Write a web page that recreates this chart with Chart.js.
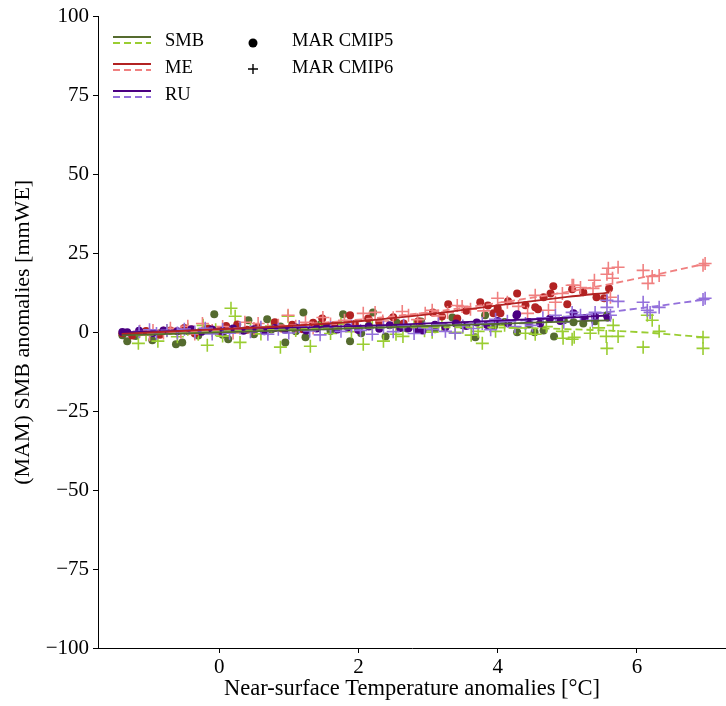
<!DOCTYPE html>
<html>
<head>
<meta charset="utf-8">
<script src="https://cdn.jsdelivr.net/npm/chart.js@4.4.1/dist/chart.umd.min.js"></script>
<style>body{margin:0;background:#fff;overflow:hidden}canvas{display:block}</style>
</head>
<body>
<canvas id="smbChart" width="726" height="706"></canvas>
<script>
/*global Chart*/

// scatter values: [temperature anomaly, SMB component anomaly]
const smbCmip5 = [[-1.39,-0.9],[-1.32,-2.8],[-1.2,-1.2],[-0.96,-2.5],[-0.85,-0.3],[-0.62,-3.8],[-0.53,-3.2],[-0.45,0.4],[-0.3,-1.0],[-0.2,0.9],[-0.07,5.7],[0.05,-0.8],[0.13,-2.2],[0.25,1.2],[0.42,3.8],[0.5,-0.6],[0.69,4.1],[0.75,0.9],[0.88,1.8],[0.95,-3.2],[1.1,0.3],[1.21,6.3],[1.24,-1.6],[1.45,2.4],[1.6,0.4],[1.78,5.7],[1.88,-2.8],[2.04,-0.3],[2.15,2.1],[2.21,6.3],[2.39,-1.3],[2.55,3.0],[2.7,1.2],[2.9,3.4],[3.1,1.0],[3.35,4.7],[3.5,2.2],[3.68,-1.6],[3.82,5.4],[3.95,2.0],[4.1,3.3],[4.28,0],[4.45,2.5],[4.53,0],[4.66,0.6],[4.81,-1.3],[4.95,3.8],[5.09,3.2],[5.23,2.8],[5.4,3.5],[5.57,5.4]];
const meCmip5 = [[-1.39,-0.3],[-1.25,-1.0],[-1.05,0.4],[-0.85,-0.8],[-0.7,0.6],[-0.5,1.4],[-0.35,-0.4],[-0.15,1.1],[0.0,0.4],[0.1,2.0],[0.26,2.5],[0.4,0.8],[0.55,1.6],[0.8,3.2],[0.9,1.2],[1.05,2.4],[1.2,1.0],[1.35,3.0],[1.48,4.4],[1.65,2.2],[1.88,5.4],[1.95,2.6],[2.14,4.4],[2.3,3.2],[2.5,4.8],[2.65,2.8],[2.86,3.5],[3.07,6.3],[3.2,5.0],[3.29,8.9],[3.42,4.4],[3.55,6.8],[3.75,9.5],[3.86,8.5],[3.94,6.0],[4.0,7.6],[4.04,6.0],[4.15,9.8],[4.28,12.3],[4.4,8.6],[4.54,7.9],[4.58,7.3],[4.66,11.1],[4.76,12.3],[4.8,14.6],[5.0,8.9],[5.07,13.6],[5.23,12.7],[5.42,11.1],[5.53,10.8],[5.6,13.9]];
const ruCmip5 = [[-1.39,0.1],[-1.32,0],[-1.15,0.5],[-0.95,-0.2],[-0.8,0.6],[-0.6,0.3],[-0.4,1.0],[-0.25,0.2],[-0.1,0.9],[0.05,0.4],[0.2,1.2],[0.35,0.5],[0.5,1.0],[0.65,0.3],[0.8,1.4],[0.95,0.8],[1.1,1.5],[1.25,0.6],[1.4,1.2],[1.55,1.9],[1.7,0.9],[1.85,1.6],[2.0,0.7],[2.15,1.8],[2.3,1.1],[2.45,2.2],[2.6,1.4],[2.72,1.3],[2.84,0.9],[2.92,0.6],[3.1,2.4],[3.25,1.6],[3.4,2.8],[3.55,2.0],[3.7,3.1],[3.85,2.3],[4.0,3.6],[4.15,2.9],[4.27,5.4],[4.28,5.7],[4.45,3.3],[4.61,2.8],[4.75,4.3],[4.9,3.6],[5.09,6.0],[5.25,4.5],[5.4,5.0],[5.58,4.7]];

const smbCmip6 = [[-1.16,-3.5],[-1.05,-0.8],[-0.88,-2.8],[-0.75,0.5],[-0.6,-1.4],[-0.45,1.0],[-0.3,-0.6],[-0.23,2.2],[-0.17,-4.1],[-0.05,0.8],[0.05,-1.2],[0.17,7.6],[0.23,5.1],[0.3,-3.2],[0.45,1.5],[0.6,-0.5],[0.75,2.0],[0.88,-4.7],[0.99,5.1],[1.1,0.6],[1.31,-4.4],[1.45,1.8],[1.6,-0.4],[1.75,2.6],[1.9,0.2],[2.07,-3.8],[2.2,1.6],[2.36,-2.8],[2.54,-0.6],[2.64,-1.3],[2.8,2.0],[2.95,0.5],[3.06,0],[3.2,2.4],[3.39,0],[3.5,1.6],[3.62,-0.9],[3.72,0.3],[3.78,-3.5],[3.97,0.3],[4.1,2.2],[4.25,1.4],[4.4,-0.3],[4.54,-0.6],[4.7,1.8],[4.93,0.3],[4.94,-1.9],[5.07,-2.2],[5.1,-1.6],[5.33,-0.3],[5.45,1.4],[5.56,-1.3],[5.57,-5.1],[5.66,2.2],[5.73,-1.3],[6.09,-4.7],[6.15,5.4],[6.22,3.8],[6.32,0.3],[6.95,-1.6],[6.95,-5.1]];
const meCmip6 = [[-1.14,0.3],[-1.0,-0.8],[-0.95,0.6],[-0.8,-0.2],[-0.7,1.3],[-0.55,0.1],[-0.45,1.9],[-0.35,-0.5],[-0.24,2.8],[-0.1,0.6],[0.05,1.8],[0.2,-0.2],[0.37,3.2],[0.5,1.2],[0.56,2.8],[0.7,0.8],[0.85,2.2],[0.99,5.4],[1.1,1.9],[1.24,3.2],[1.35,1.4],[1.49,4.7],[1.6,2.6],[1.8,3.8],[1.95,2.0],[2.07,6.0],[2.24,6.3],[2.35,3.6],[2.5,4.6],[2.63,6.6],[2.72,5.4],[2.85,4.0],[2.96,6.0],[3.06,7.0],[3.15,5.2],[3.28,6.3],[3.42,8.5],[3.49,8.2],[3.61,7.3],[3.8,6.8],[4.0,10.8],[4.14,9.5],[4.3,8.2],[4.43,6.0],[4.54,11.7],[4.73,7.0],[4.83,9.5],[4.93,12.3],[5.07,14.9],[5.09,14.9],[5.19,14.2],[5.37,13.9],[5.39,16.5],[5.57,18.4],[5.59,20.3],[5.62,11.1],[5.65,17.1],[5.73,20.6],[6.09,19.6],[6.16,15.5],[6.22,17.7],[6.32,18.0],[6.95,21.2],[6.98,21.8]];
const ruCmip6 = [[-1.15,0.2],[-1.0,0.8],[-0.9,-0.4],[-0.75,0.6],[-0.6,-0.2],[-0.5,1.0],[-0.35,0.1],[-0.2,1.3],[-0.1,-0.5],[0.05,0.9],[0.15,-0.3],[0.3,1.4],[0.45,0.2],[0.6,1.6],[0.7,-0.6],[0.85,1.0],[1.0,-0.2],[1.15,1.8],[1.3,0.4],[1.45,-0.8],[1.6,1.5],[1.75,0.3],[1.9,2.0],[2.03,0.6],[2.2,-0.6],[2.36,1.6],[2.5,0.2],[2.65,2.2],[2.8,-0.4],[2.95,1.4],[3.06,0.9],[3.15,2.6],[3.25,0.3],[3.39,-0.3],[3.5,2.0],[3.65,1.2],[3.78,2.8],[3.9,0.8],[3.97,4.1],[4.14,3.5],[4.25,1.8],[4.4,2.8],[4.5,2.2],[4.65,4.6],[4.83,5.4],[4.95,3.2],[5.07,6.3],[5.19,5.4],[5.36,3.8],[5.4,6.3],[5.57,7.9],[5.57,10.1],[5.62,5.4],[5.73,9.8],[6.09,9.5],[6.15,7.0],[6.19,6.3],[6.32,7.9],[6.95,10.4],[6.98,10.8]];

// fitted curves, sampled at these temperatures
const fitX5 = [-1.4, 0, 1, 2, 3, 4, 5, 5.6];
const smbFit5 = [-1.0, -0.05, 0.6, 1.3, 2.0, 2.7, 3.4, 3.8];
const meFit5 = [-0.5, 1.0, 2.0, 3.5, 5.7, 8.5, 11.2, 12.6];
const ruFit5 = [0, 0.8, 1.4, 2.0, 2.8, 3.7, 4.6, 5.4];
const fitX6 = [-1.2, 0, 1, 2, 3, 4, 5, 6, 7];
const smbFit6 = [-1.0, 0.2, 0.9, 1.4, 1.6, 1.5, 1.0, 0.1, -1.6];
const meFit6 = [-0.5, 0.8, 2.2, 4.0, 6.3, 9.3, 12.8, 17.0, 21.8];
const ruFit6 = [0, 0.3, 0.7, 1.2, 2.0, 3.2, 5.0, 7.5, 10.4];

const xTicks = [0, 2, 4, 6];
const yTicks = [-100, -75, -50, -25, 0, 25, 50, 75, 100];

const FONT = "'Liberation Serif', 'DejaVu Serif', serif";
const colors = {
  smb5: '#556B2F', smb6: '#9ACD32',
  me5: '#B22222', me6: '#F08080',
  ru5: '#4B0082', ru6: '#9370DB'
};

function pts(arr) {
  return arr.map(p => ({x: p[0], y: p[1]}));
}

function fit(xs, ys) {
  return xs.map((x, i) => ({x: x, y: ys[i]}));
}

function dots(data, color, order) {
  return {type: 'scatter', data: pts(data), pointStyle: 'circle', pointRadius: 4,
    pointBorderWidth: 0, backgroundColor: color, borderColor: color, order: order};
}

function crosses(data, color, order) {
  return {type: 'scatter', data: pts(data), pointStyle: 'cross', pointRadius: 6.5,
    pointBorderWidth: 1.6, backgroundColor: color, borderColor: color, order: order};
}

function curve(xs, ys, color, dashed) {
  return {type: 'line', data: fit(xs, ys), borderColor: color, borderWidth: 1.8,
    borderDash: dashed ? [7, 4] : [], pointRadius: 0, tension: 0.35, fill: false, order: 0};
}

function minus(v) {
  return v < 0 ? '\u2212' + Math.abs(v) : String(v);
}

// legend drawn by hand: solid + dashed line pair per component, marker column for the ensembles
const legendPlugin = {
  id: 'pairLegend',
  afterDraw(chart) {
    const ctx = chart.ctx;
    ctx.save();
    ctx.font = '18.5px ' + FONT;
    ctx.textBaseline = 'middle';
    ctx.fillStyle = '#000';
    const rows = [['SMB', colors.smb5, colors.smb6], ['ME', colors.me5, colors.me6], ['RU', colors.ru5, colors.ru6]];
    rows.forEach((r, i) => {
      const y = 37 + i * 27;
      ctx.lineWidth = 1.8;
      ctx.strokeStyle = r[1];
      ctx.setLineDash([]);
      ctx.beginPath(); ctx.moveTo(113, y); ctx.lineTo(151, y); ctx.stroke();
      ctx.strokeStyle = r[2];
      ctx.setLineDash([7, 4]);
      ctx.beginPath(); ctx.moveTo(113, y + 6); ctx.lineTo(151, y + 6); ctx.stroke();
      ctx.setLineDash([]);
      ctx.fillText(r[0], 165, y + 4);
    });
    ctx.beginPath();
    ctx.arc(253, 43, 4.5, 0, Math.PI * 2);
    ctx.fill();
    ctx.strokeStyle = '#000';
    ctx.lineWidth = 1.4;
    ctx.beginPath();
    ctx.moveTo(248, 69); ctx.lineTo(258, 69);
    ctx.moveTo(253, 64); ctx.lineTo(253, 74);
    ctx.stroke();
    ctx.fillText('MAR CMIP5', 292, 41);
    ctx.fillText('MAR CMIP6', 292, 68);
    ctx.restore();
  }
};

new Chart(document.getElementById('smbChart'), {
  data: {
    datasets: [
      curve(fitX5, smbFit5, colors.smb5, false),
      curve(fitX6, smbFit6, colors.smb6, true),
      curve(fitX5, meFit5, colors.me5, false),
      curve(fitX6, meFit6, colors.me6, true),
      curve(fitX5, ruFit5, colors.ru5, false),
      curve(fitX6, ruFit6, colors.ru6, true),
      dots(smbCmip5, colors.smb5, 6),
      crosses(smbCmip6, colors.smb6, 5),
      dots(meCmip5, colors.me5, 4),
      crosses(meCmip6, colors.me6, 3),
      dots(ruCmip5, colors.ru5, 2),
      crosses(ruCmip6, colors.ru6, 1)
    ]
  },
  options: {
    responsive: false,
    animation: false,
    devicePixelRatio: 1,
    layout: {autoPadding: false, padding: {top: 16, right: 0, left: 0, bottom: 0}},
    plugins: {legend: {display: false}, tooltip: {enabled: false}},
    scales: {
      x: {
        type: 'linear',
        min: -1.74,
        max: 7.28,
        afterBuildTicks: s => { s.ticks = xTicks.map(v => ({value: v})); },
        afterFit: s => { s.height = 58; },
        grid: {drawOnChartArea: false, color: '#000', tickLength: 5, tickWidth: 1},
        border: {display: true, color: '#000', width: 1},
        ticks: {color: '#000', font: {family: FONT, size: 21}, padding: 2, maxRotation: 0, callback: minus},
        title: {display: true, text: 'Near-surface Temperature anomalies [°C]', color: '#000',
          font: {family: FONT, size: 22.5}, padding: {top: 0, bottom: 3}}
      },
      y: {
        type: 'linear',
        min: -100,
        max: 100,
        afterBuildTicks: s => { s.ticks = yTicks.map(v => ({value: v})); },
        afterFit: s => { s.width = 98; },
        grid: {drawOnChartArea: false, color: '#000', tickLength: 5, tickWidth: 1},
        border: {display: true, color: '#000', width: 1},
        ticks: {color: '#000', font: {family: FONT, size: 21}, padding: 4, callback: minus},
        title: {display: true, text: '(MAM) SMB anomalies [mmWE]', color: '#000',
          font: {family: FONT, size: 22}, padding: {top: 10, bottom: 0}}
      }
    }
  },
  plugins: [legendPlugin]
});
</script>
</body>
</html>
